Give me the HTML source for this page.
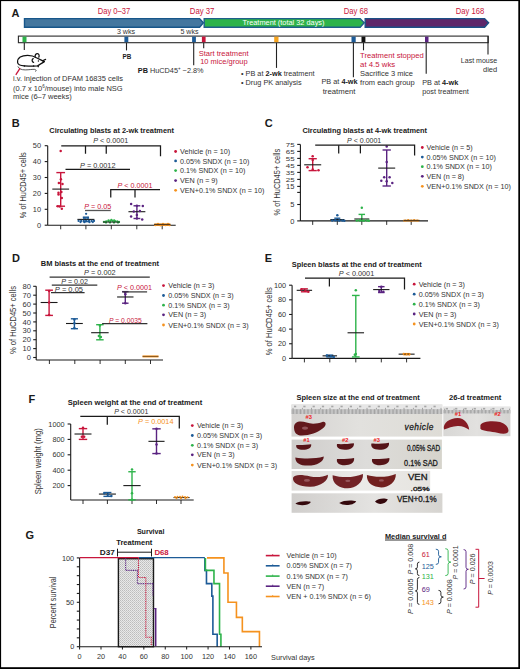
<!DOCTYPE html>
<html><head><meta charset="utf-8"><title>Figure</title>
<style>html,body{margin:0;padding:0;background:#fff;}svg{display:block;font-family:"Liberation Sans",sans-serif;}</style>
</head><body>
<svg width="520" height="669" viewBox="0 0 520 669">
<rect x="0" y="0" width="520" height="669" fill="#000"/>
<rect x="1.1" y="1.1" width="517.2" height="666.1" fill="#fff"/>
<text x="11.6" y="17.2" font-size="11" fill="#1a1a1a" font-weight="bold">A</text>
<text x="97.8" y="14.2" font-size="8.6" fill="#c8163c" textLength="32.4" lengthAdjust="spacingAndGlyphs">Day 0–37</text>
<text x="189.8" y="14.2" font-size="8.6" fill="#c8163c" textLength="24.6" lengthAdjust="spacingAndGlyphs">Day 37</text>
<text x="343.8" y="14.2" font-size="8.6" fill="#c8163c" textLength="24.2" lengthAdjust="spacingAndGlyphs">Day 68</text>
<text x="455.8" y="14.2" font-size="8.6" fill="#c8163c" textLength="28.4" lengthAdjust="spacingAndGlyphs">Day 168</text>
<path d="M24.5,18.6 H199.6 L203.4,22.8 L199.6,27.2 H24.5 Z" fill="#44779f" stroke="#17568a" stroke-width="1.4"/>
<path d="M204.2,18.6 H360.2 L364.2,22.8 L360.2,27.2 H204.2 Z" fill="#2db34a" stroke="#1f5f8a" stroke-width="1.4"/>
<path d="M365.2,18.6 H484.6 L488.6,22.8 L484.6,27.2 H365.2 Z" fill="#5e2669" stroke="#1b4f86" stroke-width="1.4"/>
<text x="283.5" y="25.4" font-size="7.2" fill="#ffffff" text-anchor="middle" textLength="82" lengthAdjust="spacingAndGlyphs">Treatment (total 32 days)</text>
<rect x="18.4" y="36.1" width="469.8" height="6.6" fill="#fff" stroke="#2a2a2a" stroke-width="1.1"/>
<rect x="22.5" y="36.6" width="4.0" height="5.6" fill="#2db34a"/>
<rect x="124.4" y="36.6" width="3.9000000000000057" height="5.6" fill="#1d5b97"/>
<rect x="192.1" y="36.6" width="3.8000000000000114" height="5.6" fill="#1d5b97"/>
<rect x="201.9" y="36.6" width="3.6999999999999886" height="5.6" fill="#c8163c"/>
<rect x="274.2" y="36.6" width="4.300000000000011" height="5.6" fill="#f5a31e"/>
<rect x="351.5" y="36.6" width="4.199999999999989" height="5.6" fill="#1d5b97"/>
<rect x="361.5" y="36.6" width="3.8999999999999773" height="5.6" fill="#111"/>
<rect x="425" y="36.6" width="3.5" height="5.6" fill="#5a2381"/>
<line x1="24.3" y1="42.7" x2="24.3" y2="50" stroke="#222" stroke-width="1.1"/>
<line x1="126.5" y1="42.7" x2="126.5" y2="50.4" stroke="#222" stroke-width="1.1"/>
<line x1="193.7" y1="42.7" x2="193.7" y2="65.2" stroke="#222" stroke-width="1.1"/>
<line x1="203.7" y1="42.7" x2="203.7" y2="48.3" stroke="#222" stroke-width="1.1"/>
<line x1="276.5" y1="42.7" x2="276.5" y2="67.9" stroke="#222" stroke-width="1.1"/>
<line x1="353.4" y1="42.7" x2="353.4" y2="77.3" stroke="#222" stroke-width="1.1"/>
<line x1="363.5" y1="42.7" x2="363.5" y2="50.3" stroke="#222" stroke-width="1.1"/>
<line x1="426.2" y1="42.7" x2="426.2" y2="73.8" stroke="#222" stroke-width="1.1"/>
<line x1="488" y1="42.7" x2="488" y2="54.5" stroke="#222" stroke-width="1.1"/>
<line x1="488" y1="36" x2="488" y2="43" stroke="#222" stroke-width="1.1"/>
<text x="116.9" y="34.4" font-size="7.2" fill="#333333" textLength="18.3" lengthAdjust="spacingAndGlyphs">3 wks</text>
<text x="180.4" y="34.0" font-size="7.2" fill="#333333" textLength="18.1" lengthAdjust="spacingAndGlyphs">5 wks</text>
<text x="122.5" y="58.5" font-size="7.2" fill="#1a1a1a" font-weight="bold" textLength="8.8" lengthAdjust="spacingAndGlyphs">PB</text>
<text x="137.8" y="73" font-size="7.3" fill="#333333"><tspan font-weight="bold" fill="#1a1a1a">PB</tspan> HuCD45<tspan font-size="4.5" dy="-2.8">+</tspan><tspan dy="2.8"> ~2.8%</tspan></text>
<text x="198.7" y="56.3" font-size="7.8" fill="#c8163c" textLength="50" lengthAdjust="spacingAndGlyphs">Start treatment</text>
<text x="200.2" y="64.2" font-size="7.8" fill="#c8163c" textLength="47.5" lengthAdjust="spacingAndGlyphs">10 mice/group</text>
<text x="241" y="76" font-size="7.3" fill="#333333">• PB at <tspan font-weight="bold" fill="#1a1a1a">2-wk</tspan> treatment</text>
<text x="241" y="84.8" font-size="7.3" fill="#333333">• Drug PK analysis</text>
<text x="321.5" y="84.2" font-size="7.3" fill="#333333">PB at <tspan font-weight="bold" fill="#1a1a1a">4-wk</tspan></text>
<text x="322.7" y="94.2" font-size="7.3" fill="#333333" textLength="32.8" lengthAdjust="spacingAndGlyphs">treatment</text>
<text x="360.1" y="57.9" font-size="7.8" fill="#c8163c" textLength="63.7" lengthAdjust="spacingAndGlyphs">Treatment stopped</text>
<text x="360.1" y="67.0" font-size="7.8" fill="#c8163c">at 4.5 wks</text>
<text x="360.1" y="76.1" font-size="7.5" fill="#333333">Sacrifice 3 mice</text>
<text x="360.1" y="85.3" font-size="7.5" fill="#333333">from each group</text>
<text x="497.2" y="62.8" font-size="7.5" fill="#333333" text-anchor="end" textLength="36.4" lengthAdjust="spacingAndGlyphs">Last mouse</text>
<text x="497.2" y="71.5" font-size="7.5" fill="#333333" text-anchor="end">died</text>
<text x="422.2" y="85.3" font-size="7.3" fill="#333333">PB at <tspan font-weight="bold" fill="#1a1a1a">4-wk</tspan></text>
<text x="422.2" y="94.4" font-size="7.3" fill="#333333">post treatment</text>
<text x="13" y="81.3" font-size="7.5" fill="#333333" textLength="110" lengthAdjust="spacingAndGlyphs">i.v. injection of DFAM 16835 cells</text>
<text x="13" y="90.6" font-size="7.5" fill="#333333">(0.7 x 10<tspan font-size="4.5" dy="-2.8">6</tspan><tspan dy="2.8">/mouse) into male NSG</tspan></text>
<text x="13" y="98.9" font-size="7.5" fill="#333333">mice (6–7 weeks)</text>
<g fill="none" stroke="#111" stroke-width="1.25" stroke-linecap="round" stroke-linejoin="round"><path d="M17.6,62.5 C17.2,57.6 21.6,55.3 27.6,55.3 C31.6,55.3 34.3,56.3 36.4,57.8 L41.8,60.4 L44.4,61.6 L41.2,63.6 C40,64.6 38.6,65.5 37.4,65.9 C33,66.2 28,66 24.4,65.8 C20,65.6 17.8,65 17.6,62.5 Z"/><path d="M35.2,57.2 C34.6,54.8 36.2,53.6 37.4,53.7 C39,53.8 39.6,55.6 38.8,57.2"/><path d="M33.6,62.4 C31.8,62 31.6,59.4 33.2,58.6"/><path d="M42.6,60.8 L45.6,59.4"/></g>
<path d="M17.9,66.4 C18.6,68.6 21.2,69.9 25.2,69.9 C29.2,69.9 32.6,69.1 34.8,69.4 C36.6,69.8 36.4,71.3 35.2,71.4" fill="none" stroke="#444" stroke-width="0.9"/>
<circle cx="38.4" cy="61" r="0.7" fill="#111"/><circle cx="24.4" cy="66" r="0.8" fill="#111"/><circle cx="33.6" cy="66" r="0.8" fill="#111"/><circle cx="38.2" cy="66.6" r="0.8" fill="#111"/><path d="M43,61 L44.8,61.8 L42.8,62.8 Z" fill="#111"/>
<line x1="15.8" y1="74.9" x2="20.1" y2="68.2" stroke="#c8163c" stroke-width="1.3"/>
<text x="11.8" y="127.1" font-size="11" fill="#1a1a1a" font-weight="bold">B</text>
<text x="49.3" y="132.6" font-size="7.4" fill="#1a1a1a" font-weight="bold" textLength="124.7" lengthAdjust="spacingAndGlyphs">Circulating blasts at 2-wk treatment</text>
<line x1="47.7" y1="145.7" x2="47.7" y2="225.2" stroke="#1a1a1a" stroke-width="1.1"/>
<line x1="44.7" y1="145.7" x2="47.7" y2="145.7" stroke="#1a1a1a" stroke-width="1.1"/>
<text x="41" y="148.3" font-size="7.4" fill="#333333" text-anchor="end">50</text>
<line x1="44.7" y1="161.6" x2="47.7" y2="161.6" stroke="#1a1a1a" stroke-width="1.1"/>
<text x="41" y="164.2" font-size="7.4" fill="#333333" text-anchor="end">40</text>
<line x1="44.7" y1="177.5" x2="47.7" y2="177.5" stroke="#1a1a1a" stroke-width="1.1"/>
<text x="41" y="180.1" font-size="7.4" fill="#333333" text-anchor="end">30</text>
<line x1="44.7" y1="193.4" x2="47.7" y2="193.4" stroke="#1a1a1a" stroke-width="1.1"/>
<text x="41" y="196.0" font-size="7.4" fill="#333333" text-anchor="end">20</text>
<line x1="44.7" y1="209.3" x2="47.7" y2="209.3" stroke="#1a1a1a" stroke-width="1.1"/>
<text x="41" y="211.9" font-size="7.4" fill="#333333" text-anchor="end">10</text>
<line x1="44.7" y1="225.2" x2="47.7" y2="225.2" stroke="#1a1a1a" stroke-width="1.1"/>
<text x="41" y="227.8" font-size="7.4" fill="#333333" text-anchor="end">0</text>
<line x1="47.7" y1="225.3" x2="175.7" y2="225.3" stroke="#1a1a1a" stroke-width="1.1"/>
<line x1="60.7" y1="225.3" x2="60.7" y2="229.3" stroke="#1a1a1a" stroke-width="0.9"/>
<line x1="85.9" y1="225.3" x2="85.9" y2="229.3" stroke="#1a1a1a" stroke-width="0.9"/>
<line x1="111.3" y1="225.3" x2="111.3" y2="229.3" stroke="#1a1a1a" stroke-width="0.9"/>
<line x1="136.8" y1="225.3" x2="136.8" y2="229.3" stroke="#1a1a1a" stroke-width="0.9"/>
<line x1="162.2" y1="225.3" x2="162.2" y2="229.3" stroke="#1a1a1a" stroke-width="0.9"/>
<text transform="translate(26.4,185.2) rotate(-90)" font-size="8.2" fill="#333333" text-anchor="middle" textLength="66" lengthAdjust="spacingAndGlyphs">% of HuCD45+ cells</text>
<line x1="60.7" y1="172.6" x2="60.7" y2="206.2" stroke="#c8163c" stroke-width="1.4"/>
<line x1="56.35" y1="172.6" x2="65.05" y2="172.6" stroke="#c8163c" stroke-width="1.4"/>
<line x1="56.35" y1="206.2" x2="65.05" y2="206.2" stroke="#c8163c" stroke-width="1.4"/>
<line x1="52.300000000000004" y1="189.1" x2="69.10000000000001" y2="189.1" stroke="#1a1a1a" stroke-width="1.1"/>
<circle cx="60.7" cy="151.1" r="1.25" fill="#c8163c"/>
<circle cx="60.9" cy="179.3" r="1.25" fill="#c8163c"/>
<circle cx="58.9" cy="183" r="1.25" fill="#c8163c"/>
<circle cx="62.5" cy="184" r="1.25" fill="#c8163c"/>
<circle cx="58.5" cy="192.8" r="1.25" fill="#c8163c"/>
<circle cx="61.4" cy="192.1" r="1.25" fill="#c8163c"/>
<circle cx="58.5" cy="194.4" r="1.25" fill="#c8163c"/>
<circle cx="61.8" cy="197.9" r="1.25" fill="#c8163c"/>
<circle cx="57.8" cy="206.2" r="1.25" fill="#c8163c"/>
<circle cx="59.8" cy="206.6" r="1.25" fill="#c8163c"/>
<circle cx="61.8" cy="208.7" r="1.25" fill="#c8163c"/>
<line x1="85.9" y1="217.2" x2="85.9" y2="221.6" stroke="#1d5b97" stroke-width="1.4"/>
<line x1="82.80000000000001" y1="217.2" x2="89.0" y2="217.2" stroke="#1d5b97" stroke-width="1.4"/>
<line x1="82.80000000000001" y1="221.6" x2="89.0" y2="221.6" stroke="#1d5b97" stroke-width="1.4"/>
<line x1="77.4" y1="219.4" x2="94.4" y2="219.4" stroke="#1a1a1a" stroke-width="1.1"/>
<circle cx="86.1" cy="213.8" r="1.15" fill="#1d5b97"/>
<circle cx="84" cy="218" r="1.15" fill="#1d5b97"/>
<circle cx="88" cy="218" r="1.15" fill="#1d5b97"/>
<circle cx="78.6" cy="220.9" r="1.15" fill="#1d5b97"/>
<circle cx="81.2" cy="220.9" r="1.15" fill="#1d5b97"/>
<circle cx="83.8" cy="221" r="1.15" fill="#1d5b97"/>
<circle cx="86.4" cy="221" r="1.15" fill="#1d5b97"/>
<circle cx="89" cy="220.9" r="1.15" fill="#1d5b97"/>
<circle cx="91.6" cy="221" r="1.15" fill="#1d5b97"/>
<circle cx="94" cy="220.9" r="1.15" fill="#1d5b97"/>
<circle cx="80.5" cy="222.1" r="1.15" fill="#1d5b97"/>
<circle cx="84.5" cy="222.2" r="1.15" fill="#1d5b97"/>
<circle cx="89.5" cy="222.2" r="1.15" fill="#1d5b97"/>
<circle cx="92.8" cy="222.1" r="1.15" fill="#1d5b97"/>
<circle cx="104" cy="221.8" r="1.15" fill="#2db34a"/>
<circle cx="106.2" cy="221.5" r="1.15" fill="#2db34a"/>
<circle cx="108.4" cy="221.2" r="1.15" fill="#2db34a"/>
<circle cx="110.6" cy="221" r="1.15" fill="#2db34a"/>
<circle cx="112.8" cy="221" r="1.15" fill="#2db34a"/>
<circle cx="115" cy="221.2" r="1.15" fill="#2db34a"/>
<circle cx="117.2" cy="221.5" r="1.15" fill="#2db34a"/>
<circle cx="119" cy="221.9" r="1.15" fill="#2db34a"/>
<circle cx="108.6" cy="220.4" r="1.15" fill="#2db34a"/>
<circle cx="111.4" cy="219.9" r="1.15" fill="#2db34a"/>
<circle cx="114.2" cy="220.4" r="1.15" fill="#2db34a"/>
<circle cx="106" cy="222.5" r="1.15" fill="#2db34a"/>
<circle cx="110" cy="222.6" r="1.15" fill="#2db34a"/>
<circle cx="114" cy="222.6" r="1.15" fill="#2db34a"/>
<circle cx="118" cy="222.6" r="1.15" fill="#2db34a"/>
<line x1="102.9" y1="222.1" x2="119.7" y2="222.1" stroke="#1a1a1a" stroke-width="0.9"/>
<line x1="136.9" y1="205.8" x2="136.9" y2="218.5" stroke="#5a2381" stroke-width="1.4"/>
<line x1="133.5" y1="205.8" x2="140.3" y2="205.8" stroke="#5a2381" stroke-width="1.4"/>
<line x1="133.5" y1="218.5" x2="140.3" y2="218.5" stroke="#5a2381" stroke-width="1.4"/>
<line x1="128.45000000000002" y1="211.7" x2="145.35" y2="211.7" stroke="#1a1a1a" stroke-width="1.1"/>
<circle cx="131.1" cy="204" r="1.25" fill="#5a2381"/>
<circle cx="136.9" cy="205.8" r="1.25" fill="#5a2381"/>
<circle cx="142.8" cy="206.1" r="1.25" fill="#5a2381"/>
<circle cx="133.8" cy="211.6" r="1.25" fill="#5a2381"/>
<circle cx="139.9" cy="210.9" r="1.25" fill="#5a2381"/>
<circle cx="136.9" cy="215.1" r="1.25" fill="#5a2381"/>
<circle cx="131.1" cy="216.5" r="1.25" fill="#5a2381"/>
<circle cx="136.9" cy="218.5" r="1.25" fill="#5a2381"/>
<circle cx="142.2" cy="219.6" r="1.25" fill="#5a2381"/>
<line x1="154.3" y1="224.6" x2="170.3" y2="224.6" stroke="#f5921e" stroke-width="2.4"/>
<circle cx="155.5" cy="225.3" r="1.05" fill="#f5921e"/>
<circle cx="158" cy="223.9" r="1.05" fill="#f5921e"/>
<circle cx="160.5" cy="225.4" r="1.05" fill="#f5921e"/>
<circle cx="163" cy="223.8" r="1.05" fill="#f5921e"/>
<circle cx="165.5" cy="225.3" r="1.05" fill="#f5921e"/>
<circle cx="168" cy="223.9" r="1.05" fill="#f5921e"/>
<circle cx="169.5" cy="225.2" r="1.05" fill="#f5921e"/>
<line x1="154" y1="224.4" x2="170.5" y2="224.4" stroke="#1a1a1a" stroke-width="0.8"/>
<path d="M61.25,145.75 H160.5 V156.25" fill="none" stroke="#1a1a1a" stroke-width="1.25"/>
<line x1="85.5" y1="145.75" x2="85.5" y2="153.75" stroke="#1a1a1a" stroke-width="1.25"/>
<line x1="106.25" y1="145.75" x2="106.25" y2="153.75" stroke="#1a1a1a" stroke-width="1.25"/>
<text x="93.2" y="143.2" font-size="7.2" fill="#333333" textLength="35" lengthAdjust="spacingAndGlyphs"><tspan font-style="italic">P</tspan> &lt; 0.0001</text>
<line x1="65.5" y1="169.25" x2="130" y2="169.25" stroke="#1a1a1a" stroke-width="1.25"/>
<text x="80" y="167.5" font-size="7.2" fill="#333333" textLength="35.5" lengthAdjust="spacingAndGlyphs"><tspan font-style="italic">P</tspan> = 0.0012</text>
<path d="M110.75,197.5 V189.5 H160" fill="none" stroke="#1a1a1a" stroke-width="1.25"/>
<line x1="135" y1="189.5" x2="135" y2="197.5" stroke="#1a1a1a" stroke-width="1.25"/>
<text x="117.5" y="188" font-size="7.2" fill="#c8163c" textLength="35" lengthAdjust="spacingAndGlyphs"><tspan font-style="italic">P</tspan> &lt; 0.0001</text>
<line x1="85" y1="210.5" x2="110.75" y2="210.5" stroke="#555" stroke-width="1.3"/>
<text x="84.2" y="208.7" font-size="7.2" fill="#c8163c" textLength="27" lengthAdjust="spacingAndGlyphs"><tspan font-style="italic">P</tspan> = 0.05</text>
<circle cx="175.6" cy="151.5" r="1.4" fill="#c8163c"/>
<text x="180" y="154.1" font-size="7.2" fill="#333333">Vehicle (n = 10)</text>
<circle cx="175.6" cy="160.9" r="1.4" fill="#1d5b97"/>
<text x="180" y="163.5" font-size="7.2" fill="#333333">0.05% SNDX (n = 10)</text>
<circle cx="175.6" cy="170.6" r="1.4" fill="#2db34a"/>
<text x="180" y="173.2" font-size="7.2" fill="#333333">0.1% SNDX (n = 10)</text>
<circle cx="175.6" cy="180.6" r="1.4" fill="#5a2381"/>
<text x="180" y="183.2" font-size="7.2" fill="#333333">VEN (n = 9)</text>
<circle cx="175.6" cy="190.3" r="1.4" fill="#f5921e"/>
<text x="180" y="192.9" font-size="7.2" fill="#333333">VEN+0.1% SNDX (n = 10)</text>
<text x="264.8" y="127.1" font-size="11" fill="#1a1a1a" font-weight="bold">C</text>
<text x="302.4" y="132.6" font-size="7.4" fill="#1a1a1a" font-weight="bold" textLength="124.7" lengthAdjust="spacingAndGlyphs">Circulating blasts at 4-wk treatment</text>
<line x1="300.4" y1="144.4" x2="300.4" y2="220.9" stroke="#1a1a1a" stroke-width="1.1"/>
<line x1="297.2" y1="144.4" x2="300.4" y2="144.4" stroke="#1a1a1a" stroke-width="1.1"/>
<text transform="translate(294.6,146.5) scale(1,0.78)" font-size="7.9" fill="#333333" text-anchor="end">75</text>
<line x1="297.2" y1="151.4" x2="300.4" y2="151.4" stroke="#1a1a1a" stroke-width="1.1"/>
<text transform="translate(294.6,153.5) scale(1,0.78)" font-size="7.9" fill="#333333" text-anchor="end">65</text>
<line x1="297.2" y1="158.4" x2="300.4" y2="158.4" stroke="#1a1a1a" stroke-width="1.1"/>
<text transform="translate(294.6,160.5) scale(1,0.78)" font-size="7.9" fill="#333333" text-anchor="end">55</text>
<line x1="297.2" y1="165.4" x2="300.4" y2="165.4" stroke="#1a1a1a" stroke-width="1.1"/>
<text transform="translate(294.6,167.5) scale(1,0.78)" font-size="7.9" fill="#333333" text-anchor="end">45</text>
<line x1="297.2" y1="172.4" x2="300.4" y2="172.4" stroke="#1a1a1a" stroke-width="1.1"/>
<text transform="translate(294.6,174.5) scale(1,0.78)" font-size="7.9" fill="#333333" text-anchor="end">35</text>
<line x1="297.2" y1="179.4" x2="300.4" y2="179.4" stroke="#1a1a1a" stroke-width="1.1"/>
<text transform="translate(294.6,181.5) scale(1,0.78)" font-size="7.9" fill="#333333" text-anchor="end">25</text>
<line x1="297.2" y1="186.4" x2="300.4" y2="186.4" stroke="#1a1a1a" stroke-width="1.1"/>
<text x="294.4" y="189.0" font-size="7.5" fill="#333333" text-anchor="end">15</text>
<line x1="297.2" y1="192.4" x2="300.4" y2="192.4" stroke="#1a1a1a" stroke-width="1.1"/>
<line x1="297.2" y1="204.5" x2="300.4" y2="204.5" stroke="#1a1a1a" stroke-width="1.1"/>
<text x="294.4" y="207.1" font-size="7.5" fill="#333333" text-anchor="end">5</text>
<line x1="297.2" y1="220.9" x2="300.4" y2="220.9" stroke="#1a1a1a" stroke-width="1.1"/>
<text x="294.4" y="223.5" font-size="7.5" fill="#333333" text-anchor="end">0</text>
<text transform="translate(280.1,182.2) rotate(-90)" font-size="8.8" fill="#333333" text-anchor="middle" textLength="66.7" lengthAdjust="spacingAndGlyphs">% of HuCD45+ cells</text>
<line x1="300.4" y1="220.9" x2="428" y2="220.9" stroke="#1a1a1a" stroke-width="1.1"/>
<line x1="312.7" y1="220.9" x2="312.7" y2="224.9" stroke="#1a1a1a" stroke-width="0.9"/>
<line x1="337.3" y1="220.9" x2="337.3" y2="224.9" stroke="#1a1a1a" stroke-width="0.9"/>
<line x1="361.8" y1="220.9" x2="361.8" y2="224.9" stroke="#1a1a1a" stroke-width="0.9"/>
<line x1="386.7" y1="220.9" x2="386.7" y2="224.9" stroke="#1a1a1a" stroke-width="0.9"/>
<line x1="411.2" y1="220.9" x2="411.2" y2="224.9" stroke="#1a1a1a" stroke-width="0.9"/>
<line x1="312.7" y1="158.7" x2="312.7" y2="170.6" stroke="#c8163c" stroke-width="1.4"/>
<line x1="308.59999999999997" y1="158.7" x2="316.8" y2="158.7" stroke="#c8163c" stroke-width="1.4"/>
<line x1="308.59999999999997" y1="170.6" x2="316.8" y2="170.6" stroke="#c8163c" stroke-width="1.4"/>
<line x1="304.2" y1="164.8" x2="321.2" y2="164.8" stroke="#1a1a1a" stroke-width="1.1"/>
<circle cx="312.7" cy="156.2" r="1.25" fill="#c8163c"/>
<circle cx="312.7" cy="160" r="1.25" fill="#c8163c"/>
<circle cx="307.5" cy="167.3" r="1.25" fill="#c8163c"/>
<circle cx="312.7" cy="169.6" r="1.25" fill="#c8163c"/>
<circle cx="318.5" cy="170.2" r="1.25" fill="#c8163c"/>
<line x1="337.3" y1="218.2" x2="337.3" y2="220.6" stroke="#1d5b97" stroke-width="1.4"/>
<line x1="334.3" y1="218.2" x2="340.3" y2="218.2" stroke="#1d5b97" stroke-width="1.4"/>
<line x1="334.3" y1="220.6" x2="340.3" y2="220.6" stroke="#1d5b97" stroke-width="1.4"/>
<line x1="330.3" y1="219.6" x2="344.3" y2="219.6" stroke="#1a1a1a" stroke-width="1.1"/>
<circle cx="337.3" cy="215.2" r="1.25" fill="#1d5b97"/>
<circle cx="332.3" cy="220.4" r="1.25" fill="#1d5b97"/>
<circle cx="335.3" cy="220.2" r="1.25" fill="#1d5b97"/>
<circle cx="339.3" cy="220.6" r="1.25" fill="#1d5b97"/>
<circle cx="342.3" cy="220.4" r="1.25" fill="#1d5b97"/>
<circle cx="344.3" cy="220.7" r="1.25" fill="#1d5b97"/>
<line x1="361.8" y1="214.4" x2="361.8" y2="220.8" stroke="#2db34a" stroke-width="1.4"/>
<line x1="358.55" y1="214.4" x2="365.05" y2="214.4" stroke="#2db34a" stroke-width="1.4"/>
<line x1="358.55" y1="220.8" x2="365.05" y2="220.8" stroke="#2db34a" stroke-width="1.4"/>
<line x1="354.3" y1="219" x2="369.3" y2="219" stroke="#1a1a1a" stroke-width="1.1"/>
<circle cx="361.8" cy="207.7" r="1.25" fill="#2db34a"/>
<circle cx="356.8" cy="220.4" r="1.25" fill="#2db34a"/>
<circle cx="359.8" cy="220.2" r="1.25" fill="#2db34a"/>
<circle cx="363.8" cy="220.6" r="1.25" fill="#2db34a"/>
<circle cx="366.8" cy="220.4" r="1.25" fill="#2db34a"/>
<circle cx="368.8" cy="220.7" r="1.25" fill="#2db34a"/>
<line x1="386.7" y1="150" x2="386.7" y2="186" stroke="#5a2381" stroke-width="1.4"/>
<line x1="382.55" y1="150" x2="390.84999999999997" y2="150" stroke="#5a2381" stroke-width="1.4"/>
<line x1="382.55" y1="186" x2="390.84999999999997" y2="186" stroke="#5a2381" stroke-width="1.4"/>
<line x1="378.2" y1="168.1" x2="395.2" y2="168.1" stroke="#1a1a1a" stroke-width="1.1"/>
<circle cx="386.7" cy="146.5" r="1.25" fill="#5a2381"/>
<circle cx="386.7" cy="161.9" r="1.25" fill="#5a2381"/>
<circle cx="384.2" cy="177.3" r="1.25" fill="#5a2381"/>
<circle cx="389.59999999999997" cy="177.3" r="1.25" fill="#5a2381"/>
<circle cx="381.3" cy="180.8" r="1.25" fill="#5a2381"/>
<circle cx="386.7" cy="181.2" r="1.25" fill="#5a2381"/>
<circle cx="392.3" cy="183.1" r="1.25" fill="#5a2381"/>
<line x1="403.2" y1="220.6" x2="419.2" y2="220.6" stroke="#f5921e" stroke-width="1.6"/>
<circle cx="405.2" cy="220.5" r="1.1" fill="#f5921e"/>
<circle cx="408.2" cy="220.0" r="1.1" fill="#f5921e"/>
<circle cx="411.2" cy="220.5" r="1.1" fill="#f5921e"/>
<circle cx="414.2" cy="220.0" r="1.1" fill="#f5921e"/>
<circle cx="417.2" cy="220.5" r="1.1" fill="#f5921e"/>
<line x1="403.5" y1="220.4" x2="419.6" y2="220.4" stroke="#1a1a1a" stroke-width="0.8"/>
<path d="M315.2,145.2 H414.6 V155.5" fill="none" stroke="#1a1a1a" stroke-width="1.25"/>
<line x1="338.7" y1="145.2" x2="338.7" y2="153.4" stroke="#1a1a1a" stroke-width="1.25"/>
<line x1="360.4" y1="145.2" x2="360.4" y2="153.4" stroke="#1a1a1a" stroke-width="1.25"/>
<text x="347.1" y="143.1" font-size="7.2" fill="#333333" textLength="34.2" lengthAdjust="spacingAndGlyphs"><tspan font-style="italic">P</tspan> &lt; 0.0001</text>
<circle cx="422.3" cy="147.5" r="1.4" fill="#c8163c"/>
<text x="426.5" y="150.1" font-size="7.2" fill="#333333">Vehicle (n = 5)</text>
<circle cx="422.3" cy="157.1" r="1.4" fill="#1d5b97"/>
<text x="426.5" y="159.7" font-size="7.2" fill="#333333">0.05% SNDX (n = 10)</text>
<circle cx="422.3" cy="166.7" r="1.4" fill="#2db34a"/>
<text x="426.5" y="169.3" font-size="7.2" fill="#333333">0.1% SNDX (n = 10)</text>
<circle cx="422.3" cy="176.3" r="1.4" fill="#5a2381"/>
<text x="426.5" y="178.9" font-size="7.2" fill="#333333">VEN (n = 8)</text>
<circle cx="422.3" cy="186.3" r="1.4" fill="#f5921e"/>
<text x="426.5" y="188.9" font-size="7.2" fill="#333333">VEN+0.1% SNDX (n = 10)</text>
<text x="11.9" y="261.9" font-size="11" fill="#1a1a1a" font-weight="bold">D</text>
<text x="40.8" y="266.3" font-size="7.6" fill="#1a1a1a" font-weight="bold" textLength="118.3" lengthAdjust="spacingAndGlyphs">BM blasts at the end of treatment</text>
<line x1="36.2" y1="286.3" x2="36.2" y2="360" stroke="#1a1a1a" stroke-width="1.1"/>
<line x1="33.2" y1="286.3" x2="36.2" y2="286.3" stroke="#1a1a1a" stroke-width="1.1"/>
<text x="31" y="288.9" font-size="7.6" fill="#333333" text-anchor="end">80</text>
<line x1="33.2" y1="295.2" x2="36.2" y2="295.2" stroke="#1a1a1a" stroke-width="1.1"/>
<text x="31" y="297.8" font-size="7.6" fill="#333333" text-anchor="end">70</text>
<line x1="33.2" y1="304.1" x2="36.2" y2="304.1" stroke="#1a1a1a" stroke-width="1.1"/>
<text x="31" y="306.7" font-size="7.6" fill="#333333" text-anchor="end">60</text>
<line x1="33.2" y1="313.0" x2="36.2" y2="313.0" stroke="#1a1a1a" stroke-width="1.1"/>
<text x="31" y="315.6" font-size="7.6" fill="#333333" text-anchor="end">50</text>
<line x1="33.2" y1="321.9" x2="36.2" y2="321.9" stroke="#1a1a1a" stroke-width="1.1"/>
<text x="31" y="324.5" font-size="7.6" fill="#333333" text-anchor="end">40</text>
<line x1="33.2" y1="330.8" x2="36.2" y2="330.8" stroke="#1a1a1a" stroke-width="1.1"/>
<text x="31" y="333.4" font-size="7.6" fill="#333333" text-anchor="end">30</text>
<line x1="33.2" y1="339.7" x2="36.2" y2="339.7" stroke="#1a1a1a" stroke-width="1.1"/>
<text x="31" y="342.3" font-size="7.6" fill="#333333" text-anchor="end">20</text>
<line x1="33.2" y1="348.6" x2="36.2" y2="348.6" stroke="#1a1a1a" stroke-width="1.1"/>
<text x="31" y="351.2" font-size="7.6" fill="#333333" text-anchor="end">10</text>
<line x1="33.2" y1="357.5" x2="36.2" y2="357.5" stroke="#1a1a1a" stroke-width="1.1"/>
<text x="31" y="360.1" font-size="7.6" fill="#333333" text-anchor="end">0</text>
<text transform="translate(16.3,320) rotate(-90)" font-size="8.4" fill="#333333" text-anchor="middle" textLength="68" lengthAdjust="spacingAndGlyphs">% of HuCD45+ cells</text>
<line x1="36.2" y1="360" x2="163" y2="360" stroke="#1a1a1a" stroke-width="1.1"/>
<line x1="49.4" y1="360" x2="49.4" y2="364" stroke="#1a1a1a" stroke-width="0.9"/>
<line x1="74.8" y1="360" x2="74.8" y2="364" stroke="#1a1a1a" stroke-width="0.9"/>
<line x1="100.1" y1="360" x2="100.1" y2="364" stroke="#1a1a1a" stroke-width="0.9"/>
<line x1="125.3" y1="360" x2="125.3" y2="364" stroke="#1a1a1a" stroke-width="0.9"/>
<line x1="150.5" y1="360" x2="150.5" y2="364" stroke="#1a1a1a" stroke-width="0.9"/>
<line x1="49.1" y1="290.2" x2="49.1" y2="315.4" stroke="#c8163c" stroke-width="1.4"/>
<line x1="45.25" y1="290.2" x2="52.95" y2="290.2" stroke="#c8163c" stroke-width="1.4"/>
<line x1="45.25" y1="315.4" x2="52.95" y2="315.4" stroke="#c8163c" stroke-width="1.4"/>
<line x1="40.650000000000006" y1="302.5" x2="57.55" y2="302.5" stroke="#1a1a1a" stroke-width="1.1"/>
<circle cx="49.1" cy="291" r="1.25" fill="#c8163c"/>
<circle cx="49.1" cy="302.5" r="1.25" fill="#c8163c"/>
<circle cx="49.1" cy="315" r="1.25" fill="#c8163c"/>
<line x1="74.4" y1="318.8" x2="74.4" y2="328.7" stroke="#1d5b97" stroke-width="1.4"/>
<line x1="70.85000000000001" y1="318.8" x2="77.95" y2="318.8" stroke="#1d5b97" stroke-width="1.4"/>
<line x1="70.85000000000001" y1="328.7" x2="77.95" y2="328.7" stroke="#1d5b97" stroke-width="1.4"/>
<line x1="66.0" y1="323.5" x2="82.80000000000001" y2="323.5" stroke="#1a1a1a" stroke-width="1.1"/>
<circle cx="74.4" cy="319.5" r="1.25" fill="#1d5b97"/>
<circle cx="74.4" cy="323.3" r="1.25" fill="#1d5b97"/>
<circle cx="74.4" cy="328" r="1.25" fill="#1d5b97"/>
<line x1="99.9" y1="324.7" x2="99.9" y2="339.8" stroke="#2db34a" stroke-width="1.4"/>
<line x1="96.15" y1="324.7" x2="103.65" y2="324.7" stroke="#2db34a" stroke-width="1.4"/>
<line x1="96.15" y1="339.8" x2="103.65" y2="339.8" stroke="#2db34a" stroke-width="1.4"/>
<line x1="91.15" y1="332.7" x2="108.65" y2="332.7" stroke="#1a1a1a" stroke-width="1.1"/>
<circle cx="99.9" cy="325.5" r="1.25" fill="#2db34a"/>
<circle cx="98.9" cy="336.1" r="1.25" fill="#2db34a"/>
<circle cx="100.9" cy="337.1" r="1.25" fill="#2db34a"/>
<line x1="125.3" y1="291.64" x2="125.3" y2="303.21" stroke="#5a2381" stroke-width="1.4"/>
<line x1="122.05" y1="291.64" x2="128.55" y2="291.64" stroke="#5a2381" stroke-width="1.4"/>
<line x1="122.05" y1="303.21" x2="128.55" y2="303.21" stroke="#5a2381" stroke-width="1.4"/>
<line x1="117.1" y1="296.98" x2="133.5" y2="296.98" stroke="#1a1a1a" stroke-width="1.1"/>
<circle cx="125.3" cy="292.53" r="1.25" fill="#5a2381"/>
<circle cx="125.3" cy="294.31" r="1.25" fill="#5a2381"/>
<circle cx="125.3" cy="303.21" r="1.25" fill="#5a2381"/>
<line x1="142.5" y1="356.43" x2="158.5" y2="356.43" stroke="#f5921e" stroke-width="2"/>
<line x1="142.5" y1="356.43" x2="158.5" y2="356.43" stroke="#1a1a1a" stroke-width="0.5"/>
<line x1="49.6" y1="277.1" x2="149.8" y2="277.1" stroke="#333333" stroke-width="1.2"/>
<text x="84.1" y="275.2" font-size="7.2" fill="#333333" textLength="31.5" lengthAdjust="spacingAndGlyphs"><tspan font-style="italic">P</tspan> = 0.002</text>
<line x1="51.8" y1="285.2" x2="97.3" y2="285.2" stroke="#333333" stroke-width="1.2"/>
<text x="61.2" y="284.3" font-size="7.2" fill="#333333" textLength="26.8" lengthAdjust="spacingAndGlyphs"><tspan font-style="italic">P</tspan> = 0.02</text>
<line x1="51" y1="292.7" x2="84.6" y2="292.7" stroke="#333333" stroke-width="1.2"/>
<text x="54.8" y="292" font-size="7.2" fill="#333333" textLength="28.2" lengthAdjust="spacingAndGlyphs"><tspan font-style="italic">P</tspan> = 0.05</text>
<line x1="122.3" y1="291.9" x2="147.1" y2="291.9" stroke="#333333" stroke-width="1.2"/>
<text x="116.9" y="289.8" font-size="7.2" fill="#c8163c" textLength="35" lengthAdjust="spacingAndGlyphs"><tspan font-style="italic">P</tspan> &lt; 0.0001</text>
<line x1="102.1" y1="323.7" x2="147.4" y2="323.7" stroke="#333333" stroke-width="1.2"/>
<text x="108.9" y="322.5" font-size="7.2" fill="#c8163c" textLength="32.8" lengthAdjust="spacingAndGlyphs"><tspan font-style="italic">P</tspan> = 0.0035</text>
<circle cx="163.5" cy="285.6" r="1.4" fill="#c8163c"/>
<text x="168.3" y="288.2" font-size="7.2" fill="#333333">Vehicle (n = 3)</text>
<circle cx="163.5" cy="295.5" r="1.4" fill="#1d5b97"/>
<text x="168.3" y="298.1" font-size="7.2" fill="#333333">0.05% SNDX (n = 3)</text>
<circle cx="163.5" cy="305.2" r="1.4" fill="#2db34a"/>
<text x="168.3" y="307.8" font-size="7.2" fill="#333333">0.1% SNDX (n = 3)</text>
<circle cx="163.5" cy="314.8" r="1.4" fill="#5a2381"/>
<text x="168.3" y="317.4" font-size="7.2" fill="#333333">VEN (n = 3)</text>
<circle cx="163.5" cy="325" r="1.4" fill="#f5921e"/>
<text x="168.3" y="327.6" font-size="7.2" fill="#333333">VEN+0.1% SNDX (n = 3)</text>
<text x="264.8" y="261.9" font-size="11" fill="#1a1a1a" font-weight="bold">E</text>
<text x="291.7" y="266.6" font-size="7.6" fill="#1a1a1a" font-weight="bold" textLength="130" lengthAdjust="spacingAndGlyphs">Spleen blasts at the end of treatment</text>
<line x1="292.1" y1="285.2" x2="292.1" y2="358.4" stroke="#1a1a1a" stroke-width="1.1"/>
<line x1="289.1" y1="285.2" x2="292.1" y2="285.2" stroke="#1a1a1a" stroke-width="1.1"/>
<text x="286.1" y="287.8" font-size="7.3" fill="#333333" text-anchor="end">100</text>
<line x1="289.1" y1="299.84" x2="292.1" y2="299.84" stroke="#1a1a1a" stroke-width="1.1"/>
<text x="286.1" y="302.44" font-size="7.3" fill="#333333" text-anchor="end">80</text>
<line x1="289.1" y1="314.48" x2="292.1" y2="314.48" stroke="#1a1a1a" stroke-width="1.1"/>
<text x="286.1" y="317.08" font-size="7.3" fill="#333333" text-anchor="end">60</text>
<line x1="289.1" y1="329.12" x2="292.1" y2="329.12" stroke="#1a1a1a" stroke-width="1.1"/>
<text x="286.1" y="331.72" font-size="7.3" fill="#333333" text-anchor="end">40</text>
<line x1="289.1" y1="343.76" x2="292.1" y2="343.76" stroke="#1a1a1a" stroke-width="1.1"/>
<text x="286.1" y="346.36" font-size="7.3" fill="#333333" text-anchor="end">20</text>
<line x1="289.1" y1="358.4" x2="292.1" y2="358.4" stroke="#1a1a1a" stroke-width="1.1"/>
<text x="286.1" y="361.0" font-size="7.3" fill="#333333" text-anchor="end">0</text>
<text transform="translate(272.1,321.3) rotate(-90)" font-size="8.4" fill="#333333" text-anchor="middle" textLength="68" lengthAdjust="spacingAndGlyphs">% of HuCD45+ cells</text>
<line x1="292.2" y1="358.4" x2="420.4" y2="358.4" stroke="#1a1a1a" stroke-width="1.1"/>
<line x1="304.4" y1="358.4" x2="304.4" y2="362.4" stroke="#1a1a1a" stroke-width="0.9"/>
<line x1="329.8" y1="358.4" x2="329.8" y2="362.4" stroke="#1a1a1a" stroke-width="0.9"/>
<line x1="355.8" y1="358.4" x2="355.8" y2="362.4" stroke="#1a1a1a" stroke-width="0.9"/>
<line x1="381.3" y1="358.4" x2="381.3" y2="362.4" stroke="#1a1a1a" stroke-width="0.9"/>
<line x1="406.6" y1="358.4" x2="406.6" y2="362.4" stroke="#1a1a1a" stroke-width="0.9"/>
<line x1="304.4" y1="288.86" x2="304.4" y2="291.79" stroke="#c8163c" stroke-width="1.4"/>
<line x1="300.9" y1="288.86" x2="307.9" y2="288.86" stroke="#c8163c" stroke-width="1.4"/>
<line x1="300.9" y1="291.79" x2="307.9" y2="291.79" stroke="#c8163c" stroke-width="1.4"/>
<line x1="296.7" y1="290.32" x2="312.09999999999997" y2="290.32" stroke="#1a1a1a" stroke-width="1.1"/>
<circle cx="301.4" cy="289.23" r="1.25" fill="#c8163c"/>
<circle cx="305.4" cy="290.69" r="1.25" fill="#c8163c"/>
<circle cx="308.4" cy="291.79" r="1.25" fill="#c8163c"/>
<line x1="329.8" y1="355.11" x2="329.8" y2="356.94" stroke="#1d5b97" stroke-width="1.4"/>
<line x1="326.3" y1="355.11" x2="333.3" y2="355.11" stroke="#1d5b97" stroke-width="1.4"/>
<line x1="326.3" y1="356.94" x2="333.3" y2="356.94" stroke="#1d5b97" stroke-width="1.4"/>
<line x1="322.55" y1="355.84" x2="337.05" y2="355.84" stroke="#1a1a1a" stroke-width="1.1"/>
<circle cx="326.8" cy="355.47" r="1.25" fill="#1d5b97"/>
<circle cx="330.8" cy="356.2" r="1.25" fill="#1d5b97"/>
<circle cx="333.8" cy="356.94" r="1.25" fill="#1d5b97"/>
<line x1="355.8" y1="295.45" x2="355.8" y2="356.94" stroke="#2db34a" stroke-width="1.4"/>
<line x1="351.95" y1="295.45" x2="359.65000000000003" y2="295.45" stroke="#2db34a" stroke-width="1.4"/>
<line x1="351.95" y1="356.94" x2="359.65000000000003" y2="356.94" stroke="#2db34a" stroke-width="1.4"/>
<line x1="347.55" y1="332.78" x2="364.05" y2="332.78" stroke="#1a1a1a" stroke-width="1.1"/>
<circle cx="355.8" cy="290.32" r="1.25" fill="#2db34a"/>
<circle cx="355.8" cy="354.01" r="1.25" fill="#2db34a"/>
<circle cx="354.8" cy="354.74" r="1.25" fill="#2db34a"/>
<line x1="381.3" y1="286.66" x2="381.3" y2="292.52" stroke="#5a2381" stroke-width="1.4"/>
<line x1="378.05" y1="286.66" x2="384.55" y2="286.66" stroke="#5a2381" stroke-width="1.4"/>
<line x1="378.05" y1="292.52" x2="384.55" y2="292.52" stroke="#5a2381" stroke-width="1.4"/>
<line x1="373.15000000000003" y1="289.59" x2="389.45" y2="289.59" stroke="#1a1a1a" stroke-width="1.1"/>
<circle cx="381.3" cy="286.66" r="1.25" fill="#5a2381"/>
<circle cx="379.3" cy="291.06" r="1.25" fill="#5a2381"/>
<circle cx="383.3" cy="291.79" r="1.25" fill="#5a2381"/>
<line x1="406.6" y1="353.64" x2="406.6" y2="354.74" stroke="#f5921e" stroke-width="1.4"/>
<line x1="403.35" y1="353.64" x2="409.85" y2="353.64" stroke="#f5921e" stroke-width="1.4"/>
<line x1="403.35" y1="354.74" x2="409.85" y2="354.74" stroke="#f5921e" stroke-width="1.4"/>
<line x1="398.6" y1="354.15" x2="414.6" y2="354.15" stroke="#1a1a1a" stroke-width="1.1"/>
<circle cx="403.6" cy="353.79" r="1.1" fill="#f5921e"/>
<circle cx="406.6" cy="354.15" r="1.1" fill="#f5921e"/>
<circle cx="409.6" cy="354.37" r="1.1" fill="#f5921e"/>
<path d="M305,278.2 H404.5 V289.5" fill="none" stroke="#1a1a1a" stroke-width="1.25"/>
<line x1="329.4" y1="278.2" x2="329.4" y2="286.5" stroke="#1a1a1a" stroke-width="1.25"/>
<text x="338.8" y="276.4" font-size="7.2" fill="#333333" textLength="35.4" lengthAdjust="spacingAndGlyphs"><tspan font-style="italic">P</tspan> &lt; 0.0001</text>
<circle cx="414.2" cy="284.2" r="1.4" fill="#c8163c"/>
<text x="418.7" y="286.8" font-size="7.2" fill="#333333">Vehicle (n = 3)</text>
<circle cx="414.2" cy="294.2" r="1.4" fill="#1d5b97"/>
<text x="418.7" y="296.8" font-size="7.2" fill="#333333">0.05% SNDX (n = 3)</text>
<circle cx="414.2" cy="304.2" r="1.4" fill="#2db34a"/>
<text x="418.7" y="306.8" font-size="7.2" fill="#333333">0.1% SNDX (n = 3)</text>
<circle cx="414.2" cy="314" r="1.4" fill="#5a2381"/>
<text x="418.7" y="316.6" font-size="7.2" fill="#333333">VEN (n = 3)</text>
<circle cx="414.2" cy="324" r="1.4" fill="#f5921e"/>
<text x="418.7" y="326.6" font-size="7.2" fill="#333333">VEN+0.1% SNDX (n = 3)</text>
<text x="28.4" y="402.8" font-size="11" fill="#1a1a1a" font-weight="bold">F</text>
<text x="67.7" y="405" font-size="7.6" fill="#1a1a1a" font-weight="bold" textLength="134.5" lengthAdjust="spacingAndGlyphs">Spleen weight at the end of treatment</text>
<line x1="70.7" y1="424.0" x2="70.7" y2="500" stroke="#1a1a1a" stroke-width="1.1"/>
<line x1="67.6" y1="424.0" x2="70.7" y2="424.0" stroke="#1a1a1a" stroke-width="1.1"/>
<text x="64.6" y="426.5" font-size="7.3" fill="#333333" text-anchor="end">1000</text>
<line x1="67.6" y1="439.4" x2="70.7" y2="439.4" stroke="#1a1a1a" stroke-width="1.1"/>
<text x="64.6" y="441.9" font-size="7.3" fill="#333333" text-anchor="end">800</text>
<line x1="67.6" y1="454.8" x2="70.7" y2="454.8" stroke="#1a1a1a" stroke-width="1.1"/>
<text x="64.6" y="457.3" font-size="7.3" fill="#333333" text-anchor="end">600</text>
<line x1="67.6" y1="470.2" x2="70.7" y2="470.2" stroke="#1a1a1a" stroke-width="1.1"/>
<text x="64.6" y="472.7" font-size="7.3" fill="#333333" text-anchor="end">400</text>
<line x1="67.6" y1="485.6" x2="70.7" y2="485.6" stroke="#1a1a1a" stroke-width="1.1"/>
<text x="64.6" y="488.1" font-size="7.3" fill="#333333" text-anchor="end">200</text>
<text transform="translate(41.3,461.3) rotate(-90)" font-size="8.4" fill="#333333" text-anchor="middle" textLength="66" lengthAdjust="spacingAndGlyphs">Spleen weight (mg)</text>
<line x1="70.7" y1="500" x2="193.7" y2="500" stroke="#1a1a1a" stroke-width="1.1"/>
<line x1="83" y1="500" x2="83" y2="504" stroke="#1a1a1a" stroke-width="0.9"/>
<line x1="107.4" y1="500" x2="107.4" y2="504" stroke="#1a1a1a" stroke-width="0.9"/>
<line x1="132" y1="500" x2="132" y2="504" stroke="#1a1a1a" stroke-width="0.9"/>
<line x1="156.5" y1="500" x2="156.5" y2="504" stroke="#1a1a1a" stroke-width="0.9"/>
<line x1="181" y1="500" x2="181" y2="504" stroke="#1a1a1a" stroke-width="0.9"/>
<line x1="83" y1="428.62" x2="83" y2="439.4" stroke="#c8163c" stroke-width="1.4"/>
<line x1="78.8" y1="428.62" x2="87.2" y2="428.62" stroke="#c8163c" stroke-width="1.4"/>
<line x1="78.8" y1="439.4" x2="87.2" y2="439.4" stroke="#c8163c" stroke-width="1.4"/>
<line x1="74.5" y1="434.01" x2="91.5" y2="434.01" stroke="#1a1a1a" stroke-width="1.1"/>
<circle cx="83" cy="427.85" r="1.25" fill="#c8163c"/>
<circle cx="81.8" cy="436.7" r="1.25" fill="#c8163c"/>
<circle cx="84.2" cy="436.7" r="1.25" fill="#c8163c"/>
<line x1="107.4" y1="492.53" x2="107.4" y2="496.38" stroke="#1d5b97" stroke-width="1.4"/>
<line x1="103.4" y1="492.53" x2="111.4" y2="492.53" stroke="#1d5b97" stroke-width="1.4"/>
<line x1="103.4" y1="496.38" x2="111.4" y2="496.38" stroke="#1d5b97" stroke-width="1.4"/>
<line x1="98.9" y1="494.07" x2="115.9" y2="494.07" stroke="#1a1a1a" stroke-width="1.1"/>
<circle cx="104.4" cy="493.3" r="1.25" fill="#1d5b97"/>
<circle cx="108.4" cy="494.45" r="1.25" fill="#1d5b97"/>
<circle cx="111.4" cy="496.0" r="1.25" fill="#1d5b97"/>
<line x1="132" y1="471.74" x2="132" y2="499.85" stroke="#2db34a" stroke-width="1.4"/>
<line x1="128.3" y1="471.74" x2="135.7" y2="471.74" stroke="#2db34a" stroke-width="1.4"/>
<line x1="128.3" y1="499.85" x2="135.7" y2="499.85" stroke="#2db34a" stroke-width="1.4"/>
<line x1="123.35" y1="485.6" x2="140.65" y2="485.6" stroke="#1a1a1a" stroke-width="1.1"/>
<circle cx="132" cy="469.43" r="1.25" fill="#2db34a"/>
<circle cx="132" cy="493.3" r="1.25" fill="#2db34a"/>
<circle cx="132" cy="499.85" r="1.25" fill="#2db34a"/>
<line x1="156.5" y1="428.84000000000003" x2="156.5" y2="453.56" stroke="#5a2381" stroke-width="1.4"/>
<line x1="152.3" y1="428.84000000000003" x2="160.7" y2="428.84000000000003" stroke="#5a2381" stroke-width="1.4"/>
<line x1="152.3" y1="453.56" x2="160.7" y2="453.56" stroke="#5a2381" stroke-width="1.4"/>
<line x1="148.45" y1="441.34" x2="164.55" y2="441.34" stroke="#1a1a1a" stroke-width="1.1"/>
<circle cx="156.5" cy="428.84000000000003" r="1.25" fill="#5a2381"/>
<circle cx="156.5" cy="444.41999999999996" r="1.25" fill="#5a2381"/>
<circle cx="156.5" cy="453.56" r="1.25" fill="#5a2381"/>
<line x1="173.5" y1="497.6" x2="189.6" y2="497.6" stroke="#1a1a1a" stroke-width="1.0"/>
<circle cx="175" cy="497" r="1.0" fill="#f5921e"/>
<circle cx="177.5" cy="496.7" r="1.0" fill="#f5921e"/>
<circle cx="180" cy="496.8" r="1.0" fill="#f5921e"/>
<circle cx="182.5" cy="496.6" r="1.0" fill="#f5921e"/>
<circle cx="185" cy="496.9" r="1.0" fill="#f5921e"/>
<circle cx="187.5" cy="497.2" r="1.0" fill="#f5921e"/>
<circle cx="176.5" cy="498.2" r="1.0" fill="#f5921e"/>
<circle cx="181" cy="498.3" r="1.0" fill="#f5921e"/>
<circle cx="185.5" cy="498.2" r="1.0" fill="#f5921e"/>
<path d="M80.3,416.4 H179.3 V428.5" fill="none" stroke="#1a1a1a" stroke-width="1.25"/>
<line x1="107.3" y1="416.4" x2="107.3" y2="424.8" stroke="#1a1a1a" stroke-width="1.25"/>
<text x="114.2" y="414.4" font-size="7.2" fill="#333333" textLength="34.2" lengthAdjust="spacingAndGlyphs"><tspan font-style="italic">P</tspan> &lt; 0.0001</text>
<text x="138" y="423.9" font-size="7.2" fill="#f5921e" textLength="35.5" lengthAdjust="spacingAndGlyphs"><tspan font-style="italic">P</tspan> = 0.0014</text>
<circle cx="192.3" cy="425.6" r="1.4" fill="#c8163c"/>
<text x="196.9" y="428.2" font-size="7.2" fill="#333333">Vehicle (n = 3)</text>
<circle cx="192.3" cy="435.5" r="1.4" fill="#1d5b97"/>
<text x="196.9" y="438.1" font-size="7.2" fill="#333333">0.05% SNDX (n = 3)</text>
<circle cx="192.3" cy="445.3" r="1.4" fill="#2db34a"/>
<text x="196.9" y="447.9" font-size="7.2" fill="#333333">0.1% SNDX (n = 3)</text>
<circle cx="192.3" cy="454.8" r="1.4" fill="#5a2381"/>
<text x="196.9" y="457.4" font-size="7.2" fill="#333333">VEN (n = 3)</text>
<circle cx="192.3" cy="465.1" r="1.4" fill="#f5921e"/>
<text x="196.9" y="467.7" font-size="7.2" fill="#333333">VEN+0.1% SNDX (n = 3)</text>
<text x="296.5" y="400.0" font-size="7.5" fill="#1a1a1a" font-weight="bold" textLength="123.3" lengthAdjust="spacingAndGlyphs">Spleen size at the end of treatment</text>
<text x="449.1" y="399.6" font-size="7.5" fill="#1a1a1a" font-weight="bold" textLength="52.2" lengthAdjust="spacingAndGlyphs">26-d treatment</text>
<defs><linearGradient id="pg1" x1="0" y1="0" x2="1" y2="0"><stop offset="0" stop-color="#d4d2d0"/><stop offset="0.45" stop-color="#e2e1de"/><stop offset="1" stop-color="#dedcd6"/></linearGradient><linearGradient id="pg2" x1="0" y1="0" x2="1" y2="0"><stop offset="0" stop-color="#cfcdcb"/><stop offset="0.5" stop-color="#dddcda"/><stop offset="1" stop-color="#d6d4cc"/></linearGradient><linearGradient id="pg3" x1="0" y1="0" x2="1" y2="0"><stop offset="0" stop-color="#dedcda"/><stop offset="0.5" stop-color="#ebeae8"/><stop offset="1" stop-color="#e6e4e0"/></linearGradient><linearGradient id="pg4" x1="0" y1="0" x2="1" y2="0"><stop offset="0" stop-color="#d0cecc"/><stop offset="0.55" stop-color="#e4e3e1"/><stop offset="1" stop-color="#d6d4d0"/></linearGradient><linearGradient id="pg5" x1="0" y1="0" x2="1" y2="0"><stop offset="0" stop-color="#d8d7d5"/><stop offset="0.5" stop-color="#e2e1df"/><stop offset="1" stop-color="#d4d3d1"/></linearGradient></defs>
<rect x="291.5" y="404.5" width="150.8" height="32.1" fill="url(#pg1)"/>
<rect x="291.5" y="404.5" width="150.8" height="9.5" fill="#e6e6e6"/>
<rect x="291.5" y="409.25" width="150.8" height="4.75" fill="#bababa"/>
<rect x="292.7" y="409.25" width="0.9" height="4.75" fill="#a2a2a2"/>
<rect x="292.7" y="407.85" width="0.6" height="1.4" fill="#777"/>
<rect x="294.55" y="409.25" width="0.9" height="4.75" fill="#cdcdcd"/>
<rect x="296.4" y="409.25" width="0.9" height="4.75" fill="#a2a2a2"/>
<rect x="298.25" y="409.25" width="0.9" height="4.75" fill="#cdcdcd"/>
<rect x="300.1" y="409.25" width="0.9" height="4.75" fill="#a2a2a2"/>
<rect x="301.95" y="409.25" width="0.9" height="4.75" fill="#cdcdcd"/>
<rect x="301.95" y="407.85" width="0.6" height="1.4" fill="#777"/>
<rect x="303.8" y="409.25" width="0.9" height="4.75" fill="#a2a2a2"/>
<rect x="305.65" y="409.25" width="0.9" height="4.75" fill="#cdcdcd"/>
<rect x="307.5" y="409.25" width="0.9" height="4.75" fill="#a2a2a2"/>
<rect x="309.35" y="409.25" width="0.9" height="4.75" fill="#cdcdcd"/>
<rect x="311.2" y="409.25" width="0.9" height="4.75" fill="#a2a2a2"/>
<rect x="311.2" y="407.85" width="0.6" height="1.4" fill="#777"/>
<rect x="313.05" y="409.25" width="0.9" height="4.75" fill="#cdcdcd"/>
<rect x="314.9" y="409.25" width="0.9" height="4.75" fill="#a2a2a2"/>
<rect x="316.75" y="409.25" width="0.9" height="4.75" fill="#cdcdcd"/>
<rect x="318.6" y="409.25" width="0.9" height="4.75" fill="#a2a2a2"/>
<rect x="320.45" y="409.25" width="0.9" height="4.75" fill="#cdcdcd"/>
<rect x="320.45" y="407.85" width="0.6" height="1.4" fill="#777"/>
<rect x="322.3" y="409.25" width="0.9" height="4.75" fill="#a2a2a2"/>
<rect x="324.15" y="409.25" width="0.9" height="4.75" fill="#cdcdcd"/>
<rect x="326.0" y="409.25" width="0.9" height="4.75" fill="#a2a2a2"/>
<rect x="327.85" y="409.25" width="0.9" height="4.75" fill="#cdcdcd"/>
<rect x="329.7" y="409.25" width="0.9" height="4.75" fill="#a2a2a2"/>
<rect x="329.7" y="407.85" width="0.6" height="1.4" fill="#777"/>
<rect x="331.55" y="409.25" width="0.9" height="4.75" fill="#cdcdcd"/>
<rect x="333.4" y="409.25" width="0.9" height="4.75" fill="#a2a2a2"/>
<rect x="335.25" y="409.25" width="0.9" height="4.75" fill="#cdcdcd"/>
<rect x="337.1" y="409.25" width="0.9" height="4.75" fill="#a2a2a2"/>
<rect x="338.95" y="409.25" width="0.9" height="4.75" fill="#cdcdcd"/>
<rect x="338.95" y="407.85" width="0.6" height="1.4" fill="#777"/>
<rect x="340.8" y="409.25" width="0.9" height="4.75" fill="#a2a2a2"/>
<rect x="342.65" y="409.25" width="0.9" height="4.75" fill="#cdcdcd"/>
<rect x="344.5" y="409.25" width="0.9" height="4.75" fill="#a2a2a2"/>
<rect x="346.35" y="409.25" width="0.9" height="4.75" fill="#cdcdcd"/>
<rect x="348.2" y="409.25" width="0.9" height="4.75" fill="#a2a2a2"/>
<rect x="348.2" y="407.85" width="0.6" height="1.4" fill="#777"/>
<rect x="350.05" y="409.25" width="0.9" height="4.75" fill="#cdcdcd"/>
<rect x="351.9" y="409.25" width="0.9" height="4.75" fill="#a2a2a2"/>
<rect x="353.75" y="409.25" width="0.9" height="4.75" fill="#cdcdcd"/>
<rect x="355.6" y="409.25" width="0.9" height="4.75" fill="#a2a2a2"/>
<rect x="357.45" y="409.25" width="0.9" height="4.75" fill="#cdcdcd"/>
<rect x="357.45" y="407.85" width="0.6" height="1.4" fill="#777"/>
<rect x="359.3" y="409.25" width="0.9" height="4.75" fill="#a2a2a2"/>
<rect x="361.15" y="409.25" width="0.9" height="4.75" fill="#cdcdcd"/>
<rect x="363.0" y="409.25" width="0.9" height="4.75" fill="#a2a2a2"/>
<rect x="364.85" y="409.25" width="0.9" height="4.75" fill="#cdcdcd"/>
<rect x="366.7" y="409.25" width="0.9" height="4.75" fill="#a2a2a2"/>
<rect x="366.7" y="407.85" width="0.6" height="1.4" fill="#777"/>
<rect x="368.55" y="409.25" width="0.9" height="4.75" fill="#cdcdcd"/>
<rect x="370.4" y="409.25" width="0.9" height="4.75" fill="#a2a2a2"/>
<rect x="372.25" y="409.25" width="0.9" height="4.75" fill="#cdcdcd"/>
<rect x="374.1" y="409.25" width="0.9" height="4.75" fill="#a2a2a2"/>
<rect x="375.95" y="409.25" width="0.9" height="4.75" fill="#cdcdcd"/>
<rect x="375.95" y="407.85" width="0.6" height="1.4" fill="#777"/>
<rect x="377.8" y="409.25" width="0.9" height="4.75" fill="#a2a2a2"/>
<rect x="379.65" y="409.25" width="0.9" height="4.75" fill="#cdcdcd"/>
<rect x="381.5" y="409.25" width="0.9" height="4.75" fill="#a2a2a2"/>
<rect x="383.35" y="409.25" width="0.9" height="4.75" fill="#cdcdcd"/>
<rect x="385.2" y="409.25" width="0.9" height="4.75" fill="#a2a2a2"/>
<rect x="385.2" y="407.85" width="0.6" height="1.4" fill="#777"/>
<rect x="387.05" y="409.25" width="0.9" height="4.75" fill="#cdcdcd"/>
<rect x="388.9" y="409.25" width="0.9" height="4.75" fill="#a2a2a2"/>
<rect x="390.75" y="409.25" width="0.9" height="4.75" fill="#cdcdcd"/>
<rect x="392.6" y="409.25" width="0.9" height="4.75" fill="#a2a2a2"/>
<rect x="394.45" y="409.25" width="0.9" height="4.75" fill="#cdcdcd"/>
<rect x="394.45" y="407.85" width="0.6" height="1.4" fill="#777"/>
<rect x="396.3" y="409.25" width="0.9" height="4.75" fill="#a2a2a2"/>
<rect x="398.15" y="409.25" width="0.9" height="4.75" fill="#cdcdcd"/>
<rect x="400.0" y="409.25" width="0.9" height="4.75" fill="#a2a2a2"/>
<rect x="401.85" y="409.25" width="0.9" height="4.75" fill="#cdcdcd"/>
<rect x="403.7" y="409.25" width="0.9" height="4.75" fill="#a2a2a2"/>
<rect x="403.7" y="407.85" width="0.6" height="1.4" fill="#777"/>
<rect x="405.55" y="409.25" width="0.9" height="4.75" fill="#cdcdcd"/>
<rect x="407.4" y="409.25" width="0.9" height="4.75" fill="#a2a2a2"/>
<rect x="409.25" y="409.25" width="0.9" height="4.75" fill="#cdcdcd"/>
<rect x="411.1" y="409.25" width="0.9" height="4.75" fill="#a2a2a2"/>
<rect x="412.95" y="409.25" width="0.9" height="4.75" fill="#cdcdcd"/>
<rect x="412.95" y="407.85" width="0.6" height="1.4" fill="#777"/>
<rect x="414.8" y="409.25" width="0.9" height="4.75" fill="#a2a2a2"/>
<rect x="416.65" y="409.25" width="0.9" height="4.75" fill="#cdcdcd"/>
<rect x="418.5" y="409.25" width="0.9" height="4.75" fill="#a2a2a2"/>
<rect x="420.35" y="409.25" width="0.9" height="4.75" fill="#cdcdcd"/>
<rect x="422.2" y="409.25" width="0.9" height="4.75" fill="#a2a2a2"/>
<rect x="422.2" y="407.85" width="0.6" height="1.4" fill="#777"/>
<rect x="424.05" y="409.25" width="0.9" height="4.75" fill="#cdcdcd"/>
<rect x="425.9" y="409.25" width="0.9" height="4.75" fill="#a2a2a2"/>
<rect x="427.75" y="409.25" width="0.9" height="4.75" fill="#cdcdcd"/>
<rect x="429.6" y="409.25" width="0.9" height="4.75" fill="#a2a2a2"/>
<rect x="431.45" y="409.25" width="0.9" height="4.75" fill="#cdcdcd"/>
<rect x="431.45" y="407.85" width="0.6" height="1.4" fill="#777"/>
<rect x="433.3" y="409.25" width="0.9" height="4.75" fill="#a2a2a2"/>
<rect x="435.15" y="409.25" width="0.9" height="4.75" fill="#cdcdcd"/>
<rect x="437.0" y="409.25" width="0.9" height="4.75" fill="#a2a2a2"/>
<rect x="438.85" y="409.25" width="0.9" height="4.75" fill="#cdcdcd"/>
<rect x="440.7" y="409.25" width="0.9" height="4.75" fill="#a2a2a2"/>
<rect x="440.7" y="407.85" width="0.6" height="1.4" fill="#777"/>
<rect x="294.0" y="405.7" width="2.2" height="1.6" fill="#8a8a8a" opacity="0.7"/>
<rect x="303.3" y="405.7" width="2.2" height="1.6" fill="#8a8a8a" opacity="0.7"/>
<rect x="312.6" y="405.7" width="2.2" height="1.6" fill="#8a8a8a" opacity="0.7"/>
<rect x="321.9" y="405.7" width="2.2" height="1.6" fill="#8a8a8a" opacity="0.7"/>
<rect x="331.2" y="405.7" width="2.2" height="1.6" fill="#8a8a8a" opacity="0.7"/>
<rect x="340.5" y="405.7" width="2.2" height="1.6" fill="#8a8a8a" opacity="0.7"/>
<rect x="349.8" y="405.7" width="2.2" height="1.6" fill="#8a8a8a" opacity="0.7"/>
<rect x="359.1" y="405.7" width="2.2" height="1.6" fill="#8a8a8a" opacity="0.7"/>
<rect x="368.4" y="405.7" width="2.2" height="1.6" fill="#8a8a8a" opacity="0.7"/>
<rect x="377.7" y="405.7" width="2.2" height="1.6" fill="#8a8a8a" opacity="0.7"/>
<rect x="387.0" y="405.7" width="2.2" height="1.6" fill="#8a8a8a" opacity="0.7"/>
<rect x="396.3" y="405.7" width="2.2" height="1.6" fill="#8a8a8a" opacity="0.7"/>
<rect x="405.6" y="405.7" width="2.2" height="1.6" fill="#8a8a8a" opacity="0.7"/>
<rect x="414.9" y="405.7" width="2.2" height="1.6" fill="#8a8a8a" opacity="0.7"/>
<rect x="424.2" y="405.7" width="2.2" height="1.6" fill="#8a8a8a" opacity="0.7"/>
<rect x="433.5" y="405.7" width="2.2" height="1.6" fill="#8a8a8a" opacity="0.7"/>
<path transform="translate(294,420.5) scale(31.5,15.1)" d="M0,0.45 C0,0.05 0.2,-0.02 0.4,0.14 C0.55,0.26 0.75,0.22 0.9,0.1 C1.03,0.02 1.04,0.35 0.92,0.52 C0.75,0.8 0.5,1 0.25,1 C0.08,1 0,0.8 0,0.45 Z" fill="#62181c"/>
<ellipse cx="305.02" cy="428.05" rx="3" ry="1.6" fill="#b07a80" opacity="0.6"/>
<rect x="291.6" y="439.6" width="150.3" height="29.4" fill="url(#pg2)"/>
<path transform="translate(296.3,444.3) scale(14.9,5.5)" d="M0,0.12 C0.3,0.18 0.7,0.1 1,0 C1.04,0.72 0.76,1 0.46,1 C0.1,1 -0.05,0.62 0,0.12 Z" fill="#561418"/>
<path transform="translate(337,443.3) scale(16.9,6.5)" d="M0,0.12 C0.3,0.18 0.7,0.1 1,0 C1.04,0.72 0.76,1 0.46,1 C0.1,1 -0.05,0.62 0,0.12 Z" fill="#561418"/>
<path transform="translate(371.4,442.7) scale(17.6,7.1)" d="M0,0.12 C0.3,0.18 0.7,0.1 1,0 C1.04,0.72 0.76,1 0.46,1 C0.1,1 -0.05,0.62 0,0.12 Z" fill="#561418"/>
<path transform="translate(295.3,456) scale(28.5,9.6)" d="M0,0.15 C0.3,0.3 0.7,0.3 1,0.05 C1,0.6 0.75,1 0.45,1 C0.15,1 0,0.7 0,0.15 Z" fill="#5c161a"/>
<path transform="translate(337,458.1) scale(17.1,7.1)" d="M0,0.12 C0.3,0.18 0.7,0.1 1,0 C1.04,0.72 0.76,1 0.46,1 C0.1,1 -0.05,0.62 0,0.12 Z" fill="#561418"/>
<path transform="translate(372.1,458.1) scale(17.3,7.1)" d="M0,0.12 C0.3,0.18 0.7,0.1 1,0 C1.04,0.72 0.76,1 0.46,1 C0.1,1 -0.05,0.62 0,0.12 Z" fill="#561418"/>
<rect x="291.6" y="471" width="138.6" height="19.6" fill="url(#pg3)"/>
<path transform="translate(293,474) scale(34.9,12.8)" d="M0,0.3 C0.05,0.02 0.25,0.05 0.5,0.2 C0.7,0.3 0.88,0.2 1,0.05 C1.02,0.5 0.8,0.95 0.5,1 C0.2,1.02 -0.02,0.75 0,0.3 Z" fill="#6e2024"/>
<ellipse cx="306.96" cy="480.4" rx="3" ry="1.3" fill="#b07a80" opacity="0.6"/>
<path transform="translate(332.6,473.4) scale(30.4,14.9)" d="M0,0.12 C0.3,0.3 0.7,0.3 1,0.04 C1.02,0.6 0.75,1 0.5,1 C0.22,1 -0.02,0.7 0,0.12 Z" fill="#722226"/>
<ellipse cx="347.8" cy="480.85" rx="2.5" ry="1.2" fill="#b07a80" opacity="0.6"/>
<path transform="translate(366.9,473.4) scale(28.9,14.0)" d="M0,0.12 C0.3,0.3 0.7,0.3 1,0.04 C1.02,0.6 0.75,1 0.5,1 C0.22,1 -0.02,0.7 0,0.12 Z" fill="#72201f"/>
<ellipse cx="381.35" cy="480.4" rx="2.5" ry="1.2" fill="#b07a80" opacity="0.6"/>
<rect x="291.6" y="493.3" width="150.8" height="19.5" fill="url(#pg4)"/>
<path transform="translate(295.4,500.8) scale(15.5,5.4)" d="M0,0.5 C0.2,0.05 0.75,0 1,0.2 C0.85,0.9 0.25,1 0,0.5 Z" fill="#34080c"/>
<path transform="translate(339.2,499.9) scale(17.0,6.3)" d="M0,0.5 C0.2,0.05 0.75,0 1,0.2 C0.85,0.9 0.25,1 0,0.5 Z" fill="#34080c"/>
<path transform="translate(375,497.8) scale(12.8,7.5)" d="M0,0.5 C0.2,0.05 0.75,0 1,0.2 C0.85,0.9 0.25,1 0,0.5 Z" fill="#34080c"/>
<rect x="443.3" y="406.7" width="67.1" height="29.5" fill="url(#pg5)"/>
<rect x="443.3" y="406.7" width="67.1" height="6.7" fill="#e6e6e6"/>
<rect x="443.3" y="410.05" width="67.1" height="3.35" fill="#bababa"/>
<rect x="444.5" y="410.05" width="0.9" height="3.35" fill="#a2a2a2"/>
<rect x="444.5" y="408.65" width="0.6" height="1.4" fill="#777"/>
<rect x="446.35" y="410.05" width="0.9" height="3.35" fill="#cdcdcd"/>
<rect x="448.2" y="410.05" width="0.9" height="3.35" fill="#a2a2a2"/>
<rect x="450.05" y="410.05" width="0.9" height="3.35" fill="#cdcdcd"/>
<rect x="451.9" y="410.05" width="0.9" height="3.35" fill="#a2a2a2"/>
<rect x="453.75" y="410.05" width="0.9" height="3.35" fill="#cdcdcd"/>
<rect x="453.75" y="408.65" width="0.6" height="1.4" fill="#777"/>
<rect x="455.6" y="410.05" width="0.9" height="3.35" fill="#a2a2a2"/>
<rect x="457.45" y="410.05" width="0.9" height="3.35" fill="#cdcdcd"/>
<rect x="459.3" y="410.05" width="0.9" height="3.35" fill="#a2a2a2"/>
<rect x="461.15" y="410.05" width="0.9" height="3.35" fill="#cdcdcd"/>
<rect x="463.0" y="410.05" width="0.9" height="3.35" fill="#a2a2a2"/>
<rect x="463.0" y="408.65" width="0.6" height="1.4" fill="#777"/>
<rect x="464.85" y="410.05" width="0.9" height="3.35" fill="#cdcdcd"/>
<rect x="466.7" y="410.05" width="0.9" height="3.35" fill="#a2a2a2"/>
<rect x="468.55" y="410.05" width="0.9" height="3.35" fill="#cdcdcd"/>
<rect x="470.4" y="410.05" width="0.9" height="3.35" fill="#a2a2a2"/>
<rect x="472.25" y="410.05" width="0.9" height="3.35" fill="#cdcdcd"/>
<rect x="472.25" y="408.65" width="0.6" height="1.4" fill="#777"/>
<rect x="474.1" y="410.05" width="0.9" height="3.35" fill="#a2a2a2"/>
<rect x="475.95" y="410.05" width="0.9" height="3.35" fill="#cdcdcd"/>
<rect x="477.8" y="410.05" width="0.9" height="3.35" fill="#a2a2a2"/>
<rect x="479.65" y="410.05" width="0.9" height="3.35" fill="#cdcdcd"/>
<rect x="481.5" y="410.05" width="0.9" height="3.35" fill="#a2a2a2"/>
<rect x="481.5" y="408.65" width="0.6" height="1.4" fill="#777"/>
<rect x="483.35" y="410.05" width="0.9" height="3.35" fill="#cdcdcd"/>
<rect x="485.2" y="410.05" width="0.9" height="3.35" fill="#a2a2a2"/>
<rect x="487.05" y="410.05" width="0.9" height="3.35" fill="#cdcdcd"/>
<rect x="488.9" y="410.05" width="0.9" height="3.35" fill="#a2a2a2"/>
<rect x="490.75" y="410.05" width="0.9" height="3.35" fill="#cdcdcd"/>
<rect x="490.75" y="408.65" width="0.6" height="1.4" fill="#777"/>
<rect x="492.6" y="410.05" width="0.9" height="3.35" fill="#a2a2a2"/>
<rect x="494.45" y="410.05" width="0.9" height="3.35" fill="#cdcdcd"/>
<rect x="496.3" y="410.05" width="0.9" height="3.35" fill="#a2a2a2"/>
<rect x="498.15" y="410.05" width="0.9" height="3.35" fill="#cdcdcd"/>
<rect x="500.0" y="410.05" width="0.9" height="3.35" fill="#a2a2a2"/>
<rect x="500.0" y="408.65" width="0.6" height="1.4" fill="#777"/>
<rect x="501.85" y="410.05" width="0.9" height="3.35" fill="#cdcdcd"/>
<rect x="503.7" y="410.05" width="0.9" height="3.35" fill="#a2a2a2"/>
<rect x="505.55" y="410.05" width="0.9" height="3.35" fill="#cdcdcd"/>
<rect x="507.4" y="410.05" width="0.9" height="3.35" fill="#a2a2a2"/>
<rect x="509.25" y="410.05" width="0.9" height="3.35" fill="#cdcdcd"/>
<rect x="509.25" y="408.65" width="0.6" height="1.4" fill="#777"/>
<rect x="445.8" y="407.9" width="2.2" height="1.6" fill="#8a8a8a" opacity="0.7"/>
<rect x="455.1" y="407.9" width="2.2" height="1.6" fill="#8a8a8a" opacity="0.7"/>
<rect x="464.4" y="407.9" width="2.2" height="1.6" fill="#8a8a8a" opacity="0.7"/>
<rect x="473.7" y="407.9" width="2.2" height="1.6" fill="#8a8a8a" opacity="0.7"/>
<rect x="483.0" y="407.9" width="2.2" height="1.6" fill="#8a8a8a" opacity="0.7"/>
<rect x="492.3" y="407.9" width="2.2" height="1.6" fill="#8a8a8a" opacity="0.7"/>
<rect x="501.6" y="407.9" width="2.2" height="1.6" fill="#8a8a8a" opacity="0.7"/>
<path transform="translate(443.5,417.8) scale(25.7,12.0)" d="M0.02,0.97 C-0.04,0.45 0.25,0.02 0.55,0.02 C0.82,0.04 0.98,0.5 1,1 C0.85,0.8 0.72,0.66 0.55,0.68 C0.35,0.7 0.18,0.86 0.02,0.97 Z" fill="#861c24"/>
<path transform="translate(480.4,420.4) scale(28.1,13.8)" d="M0,0.35 C0.05,0.05 0.45,0 0.7,0.12 C0.88,0.22 1,0.5 1,0.75 C1,1 0.8,1 0.6,0.9 C0.4,0.78 0.08,0.8 0,0.6 Z" fill="#841a22"/>
<text x="305.6" y="418.8" font-size="5.4" fill="#ee2222" font-weight="bold" textLength="6.4" lengthAdjust="spacingAndGlyphs">#3</text>
<text x="303.2" y="442.1" font-size="5.4" fill="#ee2222" font-weight="bold" textLength="6.4" lengthAdjust="spacingAndGlyphs">#1</text>
<text x="342" y="442.1" font-size="5.4" fill="#ee2222" font-weight="bold" textLength="6.4" lengthAdjust="spacingAndGlyphs">#2</text>
<text x="373.5" y="442.1" font-size="5.4" fill="#ee2222" font-weight="bold" textLength="6.4" lengthAdjust="spacingAndGlyphs">#3</text>
<text x="454.7" y="415.9" font-size="5.4" fill="#ee2222" font-weight="bold" textLength="6.4" lengthAdjust="spacingAndGlyphs">#1</text>
<text x="494.2" y="415.9" font-size="5.4" fill="#ee2222" font-weight="bold" textLength="6.4" lengthAdjust="spacingAndGlyphs">#2</text>
<text x="404.6" y="430.4" font-size="9.4" fill="#1a1a1a" stroke="#1a1a1a" stroke-width="0.3" font-family="Liberation Sans" textLength="29.2" lengthAdjust="spacingAndGlyphs" font-style="italic" letter-spacing="0.5">vehicle</text>
<text x="407" y="451.2" font-size="8.6" fill="#1a1a1a" stroke="#1a1a1a" stroke-width="0.3" font-family="Liberation Sans" textLength="33.2" lengthAdjust="spacingAndGlyphs">0.05% SAD</text>
<text x="404.1" y="466.4" font-size="8.6" fill="#1a1a1a" stroke="#1a1a1a" stroke-width="0.3" font-family="Liberation Sans" textLength="33.7" lengthAdjust="spacingAndGlyphs">0.1% SAD</text>
<text x="408" y="480.4" font-size="8.6" fill="#1a1a1a" stroke="#1a1a1a" stroke-width="0.3" font-family="Liberation Sans" textLength="19.6" lengthAdjust="spacingAndGlyphs">VEN</text>
<text x="410.6" y="490.6" font-size="6" fill="#1a1a1a" stroke="#1a1a1a" stroke-width="0.3" font-family="Liberation Sans" textLength="19" lengthAdjust="spacingAndGlyphs">.05%</text>
<text x="396.9" y="502.2" font-size="8.6" fill="#1a1a1a" stroke="#1a1a1a" stroke-width="0.3" font-family="Liberation Sans" textLength="39.7" lengthAdjust="spacingAndGlyphs">VEN+0.1%</text>
<text x="25.6" y="538.7" font-size="11" fill="#1a1a1a" font-weight="bold">G</text>
<text x="136.9" y="534.3" font-size="7.4" fill="#1a1a1a" font-weight="bold" textLength="27.5" lengthAdjust="spacingAndGlyphs">Survival</text>
<text x="116.2" y="545" font-size="7.4" fill="#1a1a1a" font-weight="bold" textLength="36.1" lengthAdjust="spacingAndGlyphs">Treatment</text>
<text x="99.8" y="555" font-size="7.4" fill="#1a1a1a" font-weight="bold" textLength="15.1" lengthAdjust="spacingAndGlyphs">D37</text>
<text x="154.4" y="555" font-size="7.4" fill="#c8163c" font-weight="bold" textLength="14.3" lengthAdjust="spacingAndGlyphs">D68</text>
<line x1="117.5" y1="552.2" x2="151.5" y2="552.2" stroke="#1a1a1a" stroke-width="1"/>
<line x1="117.5" y1="548.7" x2="117.5" y2="556.5" stroke="#1a1a1a" stroke-width="1"/>
<line x1="151.5" y1="548.7" x2="151.5" y2="556.5" stroke="#1a1a1a" stroke-width="1"/>
<defs><pattern id="dotp" width="2" height="2" patternUnits="userSpaceOnUse"><rect width="2" height="2" fill="#e8e8e8"/><rect width="1" height="1" fill="#bcbcbc"/><rect x="1" y="1" width="1" height="1" fill="#cacaca"/></pattern></defs>
<rect x="118.4" y="558.7" width="35.1" height="88.0" fill="url(#dotp)" stroke="#1a1a1a" stroke-width="1.4"/>
<line x1="79.6" y1="557.6" x2="138.8" y2="557.6" stroke="#c8163c" stroke-width="1.4"/>
<line x1="138.8" y1="557.6" x2="204.86" y2="557.6" stroke="#1d5b97" stroke-width="1.4"/>
<path d="M125.64,557.9 V570.33 H137.41 V583.65 H152.94 V596.08" fill="none" stroke="#5a2381" stroke-width="1.1" stroke-dasharray="1,0.8"/>
<path d="M138.48,557.9 V577.44 H145.8 V637.3 H151.3 V646.7" fill="none" stroke="#c8163c" stroke-width="1.1" stroke-dasharray="1,0.8"/>
<line x1="155.65" y1="608.5" x2="155.65" y2="646.2" stroke="#5a2381" stroke-width="1.6"/>
<line x1="153.8" y1="608.6" x2="156.4" y2="608.6" stroke="#5a2381" stroke-width="1"/>
<path d="M204.86,557.9 V570.33 H206.47 V583.65 H211.82 V596.08 H212.89 V634.27 H217.17 V646.7" fill="none" stroke="#1d5b97" stroke-width="1.6"/>
<path d="M205.4,557.9 V570.33 H213.96 V583.65 H219.53 V634.27 H220.92 V646.7" fill="none" stroke="#2db34a" stroke-width="1.6"/>
<path d="M207.0,557.9 H223.92 V573.0 H227.99 V602.3 H236.44 V617.4 H242.33 V631.6 H259.46 V646.7" fill="none" stroke="#f5921e" stroke-width="1.6"/>
<line x1="79.6" y1="557.9" x2="79.6" y2="646.7" stroke="#1a1a1a" stroke-width="1.1"/>
<line x1="76.8" y1="646.7" x2="79.6" y2="646.7" stroke="#1a1a1a" stroke-width="1.1"/>
<line x1="76.8" y1="637.82" x2="79.6" y2="637.82" stroke="#1a1a1a" stroke-width="1.1"/>
<line x1="76.8" y1="628.94" x2="79.6" y2="628.94" stroke="#1a1a1a" stroke-width="1.1"/>
<line x1="76.8" y1="620.06" x2="79.6" y2="620.06" stroke="#1a1a1a" stroke-width="1.1"/>
<line x1="76.8" y1="611.18" x2="79.6" y2="611.18" stroke="#1a1a1a" stroke-width="1.1"/>
<line x1="76.8" y1="602.3" x2="79.6" y2="602.3" stroke="#1a1a1a" stroke-width="1.1"/>
<line x1="76.8" y1="593.42" x2="79.6" y2="593.42" stroke="#1a1a1a" stroke-width="1.1"/>
<line x1="76.8" y1="584.54" x2="79.6" y2="584.54" stroke="#1a1a1a" stroke-width="1.1"/>
<line x1="76.8" y1="575.66" x2="79.6" y2="575.66" stroke="#1a1a1a" stroke-width="1.1"/>
<line x1="76.8" y1="566.78" x2="79.6" y2="566.78" stroke="#1a1a1a" stroke-width="1.1"/>
<line x1="76.8" y1="557.9" x2="79.6" y2="557.9" stroke="#1a1a1a" stroke-width="1.1"/>
<text x="74.2" y="560.5" font-size="7.3" fill="#333333" text-anchor="end">100</text>
<text x="74.2" y="604.9" font-size="7.3" fill="#333333" text-anchor="end">50</text>
<text x="74.2" y="649.3" font-size="7.3" fill="#333333" text-anchor="end">0</text>
<line x1="79.6" y1="646.7" x2="262" y2="646.7" stroke="#1a1a1a" stroke-width="1.1"/>
<line x1="79.6" y1="646.7" x2="79.6" y2="649.5" stroke="#1a1a1a" stroke-width="1"/>
<text x="79.6" y="659.2" font-size="7.3" fill="#333333" text-anchor="middle">0</text>
<line x1="101.01" y1="646.7" x2="101.01" y2="649.5" stroke="#1a1a1a" stroke-width="1"/>
<text x="101.01" y="659.2" font-size="7.3" fill="#333333" text-anchor="middle">20</text>
<line x1="122.42" y1="646.7" x2="122.42" y2="649.5" stroke="#1a1a1a" stroke-width="1"/>
<text x="122.42" y="659.2" font-size="7.3" fill="#333333" text-anchor="middle">40</text>
<line x1="143.84" y1="646.7" x2="143.84" y2="649.5" stroke="#1a1a1a" stroke-width="1"/>
<text x="143.84" y="659.2" font-size="7.3" fill="#333333" text-anchor="middle">60</text>
<line x1="165.25" y1="646.7" x2="165.25" y2="649.5" stroke="#1a1a1a" stroke-width="1"/>
<text x="165.25" y="659.2" font-size="7.3" fill="#333333" text-anchor="middle">80</text>
<line x1="186.66" y1="646.7" x2="186.66" y2="649.5" stroke="#1a1a1a" stroke-width="1"/>
<text x="186.66" y="659.2" font-size="7.3" fill="#333333" text-anchor="middle">100</text>
<line x1="208.07" y1="646.7" x2="208.07" y2="649.5" stroke="#1a1a1a" stroke-width="1"/>
<text x="208.07" y="659.2" font-size="7.3" fill="#333333" text-anchor="middle">120</text>
<line x1="229.48" y1="646.7" x2="229.48" y2="649.5" stroke="#1a1a1a" stroke-width="1"/>
<text x="229.48" y="659.2" font-size="7.3" fill="#333333" text-anchor="middle">140</text>
<line x1="250.9" y1="646.7" x2="250.9" y2="649.5" stroke="#1a1a1a" stroke-width="1"/>
<text x="250.9" y="659.2" font-size="7.3" fill="#333333" text-anchor="middle">160</text>
<text x="271" y="659.8" font-size="7.5" fill="#333333" textLength="43.6" lengthAdjust="spacingAndGlyphs">Survival days</text>
<text transform="translate(55.9,602.4) rotate(-90)" font-size="8.4" fill="#333333" text-anchor="middle" textLength="51.6" lengthAdjust="spacingAndGlyphs">Percent survival</text>
<line x1="265.8" y1="555.6" x2="279.6" y2="555.6" stroke="#c8163c" stroke-width="1.6"/>
<line x1="272.7" y1="555.6" x2="272.7" y2="554.1" stroke="#c8163c" stroke-width="0.8"/>
<text x="286.5" y="558.2" font-size="7.2" fill="#333333">Vehicle (n = 10)</text>
<line x1="265.8" y1="565.8" x2="279.6" y2="565.8" stroke="#1d5b97" stroke-width="1.6"/>
<line x1="272.7" y1="565.8" x2="272.7" y2="564.3" stroke="#1d5b97" stroke-width="0.8"/>
<text x="286.5" y="568.4" font-size="7.2" fill="#333333">0.05% SNDX (n = 7)</text>
<line x1="265.8" y1="576.1" x2="279.6" y2="576.1" stroke="#2db34a" stroke-width="1.6"/>
<line x1="272.7" y1="576.1" x2="272.7" y2="574.6" stroke="#2db34a" stroke-width="0.8"/>
<text x="286.5" y="578.7" font-size="7.2" fill="#333333">0.1% SNDX (n = 7)</text>
<line x1="265.8" y1="586.2" x2="279.6" y2="586.2" stroke="#5a2381" stroke-width="1.6"/>
<line x1="272.7" y1="586.2" x2="272.7" y2="584.7" stroke="#5a2381" stroke-width="0.8"/>
<text x="286.5" y="588.8" font-size="7.2" fill="#333333">VEN (n = 7)</text>
<line x1="265.8" y1="596.5" x2="279.6" y2="596.5" stroke="#f5921e" stroke-width="1.6"/>
<line x1="272.7" y1="596.5" x2="272.7" y2="595.0" stroke="#f5921e" stroke-width="0.8"/>
<text x="286.5" y="599.1" font-size="7.2" fill="#333333">VEN + 0.1% SNDX (n = 6)</text>
<text x="385" y="538.6" font-size="7.5" font-weight="bold" fill="#1a1a1a" textLength="61.4" lengthAdjust="spacingAndGlyphs">Median survival d</text>
<line x1="385" y1="540" x2="446.4" y2="540" stroke="#1a1a1a" stroke-width="0.9"/>
<text x="421.7" y="556.9" font-size="7.3" fill="#c8163c">61</text>
<text x="421.7" y="568.5" font-size="7.3" fill="#1d5b97">125</text>
<text x="421.7" y="579" font-size="7.3" fill="#2db34a">131</text>
<text x="421.7" y="591.9" font-size="7.3" fill="#5a2381">69</text>
<text x="421.7" y="605.4" font-size="7.3" fill="#f5921e">143</text>
<text transform="translate(413.4,559.2) rotate(-90)" font-size="7.2" fill="#333333" text-anchor="middle" textLength="30.8" lengthAdjust="spacingAndGlyphs"><tspan font-style="italic">P</tspan> = 0.008</text>
<text transform="translate(413.4,596.2) rotate(-90)" font-size="7.2" fill="#333333" text-anchor="middle" textLength="35.5" lengthAdjust="spacingAndGlyphs"><tspan font-style="italic">P</tspan> = 0.0005</text>
<text transform="translate(451.5,596.7) rotate(-90)" font-size="7.2" fill="#333333" text-anchor="middle" textLength="34.6" lengthAdjust="spacingAndGlyphs"><tspan font-style="italic">P</tspan> = 0.0008</text>
<text transform="translate(458.2,562.4) rotate(-90)" font-size="7.2" fill="#333333" text-anchor="middle" textLength="34" lengthAdjust="spacingAndGlyphs"><tspan font-style="italic">P</tspan> = 0.0001</text>
<text transform="translate(474.8,568.8) rotate(-90)" font-size="7.2" fill="#333333" text-anchor="middle" textLength="30.7" lengthAdjust="spacingAndGlyphs"><tspan font-style="italic">P</tspan> = 0.026</text>
<text transform="translate(492.6,578) rotate(-90)" font-size="7.2" fill="#333333" text-anchor="middle" textLength="33.6" lengthAdjust="spacingAndGlyphs"><tspan font-style="italic">P</tspan> = 0.0003</text>
<path d="M419.4,562.1 Q417.4,562.1 417.4,564.1 V566.85 Q417.4,568.85 415.4,568.85 Q417.4,568.85 417.4,570.85 V573.6 Q417.4,575.6 419.4,575.6" fill="none" stroke="#1a1a1a" stroke-width="0.9"/>
<path d="M419.4,577.5 Q417.4,577.5 417.4,579.5 V588.95 Q417.4,590.95 415.4,590.95 Q417.4,590.95 417.4,592.95 V602.4 Q417.4,604.4 419.4,604.4" fill="none" stroke="#1a1a1a" stroke-width="0.9"/>
<path d="M435.8,549.2 Q438.55,549.2 438.55,551.2 V554.8 Q438.55,556.8 441.3,556.8 Q438.55,556.8 438.55,558.8 V562.4 Q438.55,564.4 435.8,564.4" fill="none" stroke="#1d5b97" stroke-width="0.9"/>
<path d="M438.5,590.4 Q440.9,590.4 440.9,592.4 V595.0999999999999 Q440.9,597.0999999999999 443.3,597.0999999999999 Q440.9,597.0999999999999 440.9,599.0999999999999 V601.8 Q440.9,603.8 438.5,603.8" fill="none" stroke="#1a1a1a" stroke-width="0.9"/>
<path d="M445.3,548.7 Q448.1,548.7 448.1,550.7 V560.1500000000001 Q448.1,562.1500000000001 450.90000000000003,562.1500000000001 Q448.1,562.1500000000001 448.1,564.1500000000001 V573.6 Q448.1,575.6 445.3,575.6" fill="none" stroke="#2db34a" stroke-width="0.9"/>
<path d="M463.6,549.6 Q466.0,549.6 466.0,551.6 V567.3 Q466.0,569.3 468.40000000000003,569.3 Q466.0,569.3 466.0,571.3 V587 Q466.0,589 463.6,589" fill="none" stroke="#5a2381" stroke-width="0.9"/>
<path d="M475.5,549.3 H478.7 V607.2 H475.5" fill="none" stroke="#c8163c" stroke-width="1"/>
<line x1="478.7" y1="578.5" x2="484.6" y2="578.5" stroke="#c8163c" stroke-width="1"/>
</svg>
</body></html>
